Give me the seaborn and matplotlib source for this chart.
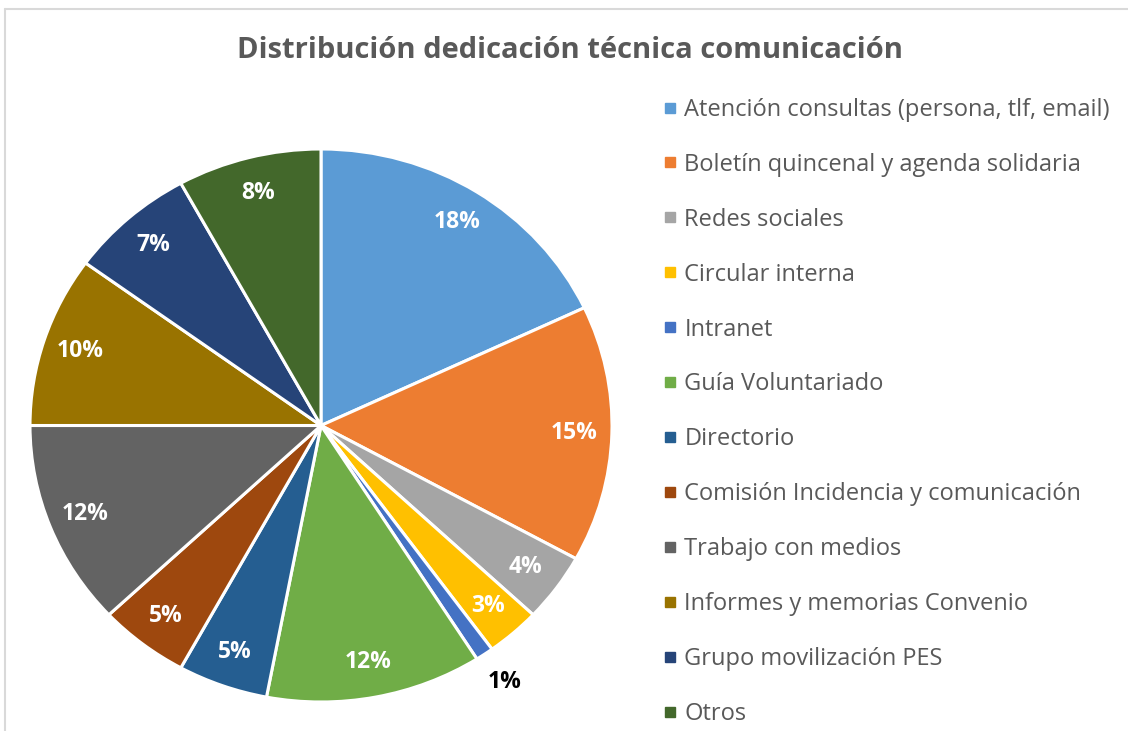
import matplotlib
matplotlib.use("Agg")
import matplotlib.pyplot as plt
from matplotlib.lines import Line2D
import seaborn as sns
import math

categories = [
    "Atención consultas (persona, tlf, email)",
    "Boletín quincenal y agenda solidaria",
    "Redes sociales",
    "Circular interna",
    "Intranet",
    "Guía Voluntariado",
    "Directorio",
    "Comisión Incidencia y comunicación",
    "Trabajo con medios",
    "Informes y memorias Convenio",
    "Grupo movilización PES",
    "Otros",
]
values = [18, 15, 4, 3, 1, 12, 5, 5, 12, 10, 7, 8]
colors = ["#5B9BD5", "#ED7D31", "#A5A5A5", "#FFC000", "#4472C4", "#70AD47",
          "#255E91", "#9E480E", "#636363", "#997300", "#264478", "#43682B"]
title = "Distribución dedicación técnica comunicación"

sns.set_theme(style="white")
plt.rcParams["font.family"] = ["Open Sans", "DejaVu Sans"]
palette = sns.color_palette(colors)

W, H = 1128, 731
fig = plt.figure(figsize=(W / 100, H / 100), dpi=100)
fig.patch.set_facecolor("white")

# border lines
fig.add_artist(Line2D([5 / W, 1], [1 - 9 / H, 1 - 9 / H], color="#D9D9D9", lw=1.5))
fig.add_artist(Line2D([5 / W, 5 / W], [0, 1 - 9 / H], color="#D9D9D9", lw=1.5))

left, right, top, bottom = 30, 612, 149, 702
ax = fig.add_axes([left / W, (H - bottom) / H, (right - left) / W, (bottom - top) / H])
wedges, texts = ax.pie(values, colors=palette, startangle=90, counterclock=False,
                       wedgeprops=dict(edgecolor="white", linewidth=2.2))
ax.set_aspect("auto")
ax.set_xlim(-1, 1)
ax.set_ylim(-1, 1)
ax.axis("off")

total = sum(values)
cum = 0
for v in values:
    mid = 90 - 360 * (cum + v / 2) / total
    cum += v
    r = 0.87 if v > 1 else 1.12
    col = "white" if v > 1 else "black"
    x = r * math.cos(math.radians(mid))
    y = r * math.sin(math.radians(mid))
    ax.text(x, y, f"{v}%", ha="center", va="center", color=col,
            fontsize=16.5, fontweight="bold", clip_on=False)

fig.text(570 / W, 1 - 51 / H, title, ha="center", va="center", fontsize=21,
         fontweight="bold", color="#595959")

handles = [Line2D([0], [0], marker="s", linestyle="none", markersize=7,
                  markerfacecolor=c, markeredgecolor=c) for c in palette]
leg = fig.legend(handles, categories, loc="upper left",
                 bbox_to_anchor=(649 / W, 1 - 86 / H), frameon=False,
                 fontsize=17, labelspacing=1.31, handletextpad=0.2,
                 handlelength=0.8, borderpad=0)
for t in leg.get_texts():
    t.set_color("#595959")

fig.savefig("out.png", dpi=100)
